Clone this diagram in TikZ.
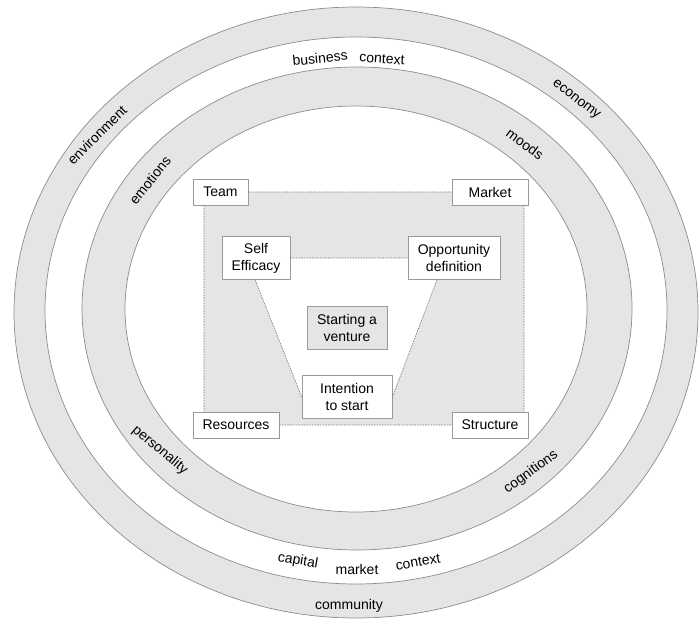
\documentclass[tikz,border=0pt]{standalone}
\usepackage{fontspec}
\setmainfont{Liberation Sans}
\begin{document}
\begin{tikzpicture}[x=1pt, y=-1pt, line join=round, font=\fontsize{14}{17}\selectfont,
    ring/.style={draw=gray!90, line width=0.7pt},
    box/.style={draw=gray!80, fill=white, line width=0.7pt, align=center, inner sep=2pt},
    link/.style={draw=gray, line width=0.6pt, dash pattern=on 1.6pt off 1.1pt}]
            \useasboundingbox (0,0) rectangle (700,620);
            % rings
            \filldraw[ring, fill=gray!20] (356,312.5) ellipse [x radius=342, y radius=305.5];
            \filldraw[ring, fill=white] (356,310.5) ellipse [x radius=311, y radius=273.5];
            \filldraw[ring, fill=gray!20] (357,308.5) ellipse [x radius=275, y radius=241.5];
            \filldraw[ring, fill=white] (356,309) ellipse [x radius=231, y radius=203];
            % core area
            \fill[gray!20] (204,192) rectangle (524,425);
            \fill[white] (256,258) -- (454,258) -- (437,279) -- (392,397) -- (302,397) -- (255,279) -- cycle;
            \node[box, minimum width=55, minimum height=26] (team) at (220.5,192) {Team};
            \node[box, minimum width=76, minimum height=26] (market) at (490,192) {Market};
            \node[box, minimum width=86, minimum height=26] (res) at (236,425) {Resources};
            \node[box, minimum width=76, minimum height=26] (struct) at (490,425) {Structure};
            \node[box, minimum width=68, minimum height=43] (self) at (256,258) {Self\\Efficacy};
            \node[box, minimum width=92, minimum height=43] (opp) at (454,258) {Opportunity\\definition};
            \node[box, fill=gray!20, minimum width=80, minimum height=43] (venture) at (347,328) {Starting a\\venture};
            \node[box, minimum width=90, minimum height=43] (intent) at (347,397) {Intention\\to start};
            \draw[link] (team) -- (market)
            (res) -- (struct)
            ([xshift=-16.5pt]team.south) -- ([xshift=-32pt]res.north)
            ([xshift=34pt]market.south) -- ([xshift=34pt]struct.north)
            (self) -- (opp)
            ([xshift=-1pt]self.south) -- (intent.west)
            ([xshift=-17pt]opp.south) -- (intent.east);
            % ring labels
            \node[rotate=45] (env) at (97,135) {environment};
            \node[rotate=-38] (eco) at (576,100) {economy};
            \node[rotate=6] (bus) at (320,58) {business};
            \node[rotate=-4] (busctx) at (382,59) {context};
            \node[rotate=51] (emo) at (150,180) {emotions};
            \node[rotate=-36] (moods) at (525,144) {moods};
            \node[rotate=-40] (pers) at (160,450) {personality};
            \node[rotate=36] (cog) at (531,472) {cognitions};
            \node[rotate=-10] (cap) at (298,561) {capital};
            \node (mkt) at (357,569) {market};
            \node[rotate=10] (capctx) at (418,562) {context};
            \node (comm) at (349,606) {community};
        \end{tikzpicture}
\end{document}
